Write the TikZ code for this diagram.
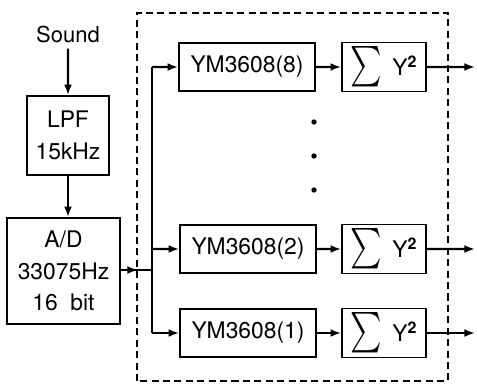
\documentclass[tikz,border=0pt]{standalone}
\usepackage{fontspec}
\setmainfont{TeX Gyre Heros}
\usetikzlibrary{arrows.meta, decorations.markings}

\begin{document}
\begin{tikzpicture}[scale=0.2,
  box/.style={draw, line width=1pt, align=center, inner sep=0pt, font=\fontsize{13}{18}\selectfont},
  ymbox/.style={box, minimum width=2.72cm, minimum height=0.97cm},
  sqbox/.style={box, minimum width=1.68cm, minimum height=0.98cm},
  sig/.style={line width=1.3pt, -{Latex[length=6pt,width=4.5pt]}},
  midarrow/.style={line width=1.3pt, postaction={decorate},
    decoration={markings, mark=at position #1 with {\arrow{Latex[length=6pt,width=4.5pt]}}}}]
\useasboundingbox (0,0) rectangle (47.7,38.3);
\draw[line width=0.9pt, dash pattern=on 4pt off 2.5pt] (13.7,0.2) rectangle (44.8,37.0);
\node[font=\fontsize{12.5}{15}\selectfont] (sound) at (6.8,34.9) {Sound};
\node[box, minimum width=1.64cm, minimum height=1.58cm] (lpf) at (6.8,24.75) {LPF\\15kHz};
\node[box, minimum width=2.26cm, minimum height=2.12cm] (ad) at (6.35,11.2) {A/D\\33075Hz\\16~~bit};
\draw[sig] (sound) -- (lpf);
\draw[sig] (lpf.south) -- (lpf.south |- ad.north);
\node[ymbox] (ym8) at (24.7,31.6) {YM3608(8)};
\node[ymbox] (ym2) at (24.8,13.4) {YM3608(2)};
\node[ymbox] (ym1) at (24.8,5.0) {YM3608(1)};
\node[sqbox] (sq8) at (38.4,31.6) {\raisebox{-0.3ex}{\scalebox{1.7}[2.3]{$\sum$}}\;\,Y\textsuperscript{\bfseries 2}};
\node[sqbox] (sq2) at (38.4,13.4) {\raisebox{-0.3ex}{\scalebox{1.7}[2.3]{$\sum$}}\;\,Y\textsuperscript{\bfseries 2}};
\node[sqbox] (sq1) at (38.4,5.0) {\raisebox{-0.3ex}{\scalebox{1.7}[2.3]{$\sum$}}\;\,Y\textsuperscript{\bfseries 2}};
\coordinate (bt) at (15.2,31.6);
\coordinate (bm) at (15.2,11.3);
\coordinate (bb) at (15.2,5.0);
\coordinate (o8) at (47.5,31.6);
\coordinate (o2) at (47.5,13.4);
\coordinate (o1) at (47.5,5.0);
\draw[line width=1.6pt] (bt) -- (bb);
\draw[midarrow=0.55] (ad.east |- bm) -- (bm);
\draw[sig] (bt) -- (ym8);
\draw[sig] (bt |- ym2) -- (ym2);
\draw[sig] (bb) -- (ym1);
\draw[sig] (ym8) -- (sq8);
\draw[sig] (ym2) -- (sq2);
\draw[sig] (ym1) -- (sq1);
\draw[sig] (sq8) -- (o8);
\draw[sig] (sq2) -- (o2);
\draw[sig] (sq1) -- (o1);
\fill (31.4,26.1) circle (0.27);
\fill (31.4,22.7) circle (0.27);
\fill (31.4,19.3) circle (0.27);
\end{tikzpicture}
\end{document}
